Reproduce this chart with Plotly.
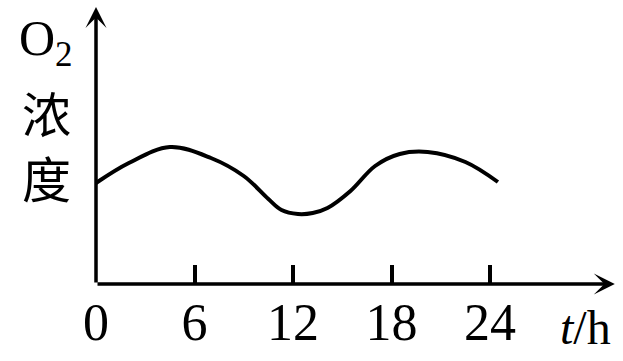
import plotly.graph_objects as go

# O2 concentration over one day (arbitrary units)
hours = [0, 2.0, 4.5, 7.0, 9.0, 10.5, 11.3, 12.3, 13.2, 14.1, 15.5, 17.0,
         18.5, 20.2, 22.5, 24.48]
o2_level = [10.1, 12.1, 13.7, 12.6, 10.8, 8.5, 7.4, 7.0, 7.1, 7.6, 9.3, 11.8,
            13.0, 13.2, 12.2, 10.2]
tick_vals = [0, 6, 12, 18, 24]
tick_text = ["0", "6", "12", "18", "24"]

X_MAX = 32.1
Y_MAX = 28.4
X_ARROW = 31.6
Y_ARROW = 27.7

serif = "Liberation Serif, Times New Roman, serif"
cjk = "Noto Sans CJK SC"

fig = go.Figure()
fig.add_trace(go.Scatter(
    x=hours, y=o2_level, mode="lines",
    line=dict(color="black", width=4, shape="spline", smoothing=1.0),
    hoverinfo="skip", showlegend=False,
))

axis_arrow = dict(showarrow=True, arrowhead=3, arrowsize=1.0, arrowwidth=3.5,
                  arrowcolor="black", axref="x", ayref="y", xref="x", yref="y",
                  text="", standoff=0, startstandoff=0)
annotations = [
    dict(x=X_ARROW, y=0, ax=0, ay=0, **axis_arrow),
    dict(x=0, y=Y_ARROW, ax=0, ay=0, **axis_arrow),
    dict(x=(585 - 96) / 527, y=(284 - 327) / 284, xref="paper", yref="paper",
         text="<i>t</i>/h", showarrow=False, xanchor="center", yanchor="middle",
         font=dict(family=serif, size=48, color="black")),
    dict(x=(46 - 96) / 527, y=(284 - 42) / 284, xref="paper", yref="paper",
         text="O<sub>2</sub>", showarrow=False, xanchor="center", yanchor="middle",
         font=dict(family=serif, size=50, color="black")),
    dict(x=(46 - 96) / 527, y=(284 - 111) / 284, xref="paper", yref="paper",
         text="浓", showarrow=False, xanchor="center", yanchor="middle",
         font=dict(family=cjk, size=49, color="black")),
    dict(x=(46 - 96) / 527, y=(284 - 176) / 284, xref="paper", yref="paper",
         text="度", showarrow=False, xanchor="center", yanchor="middle",
         font=dict(family=cjk, size=49, color="black")),
]

fig.update_layout(
    width=623, height=361,
    margin=dict(l=96, r=0, t=0, b=77),
    paper_bgcolor="white", plot_bgcolor="white",
    annotations=annotations,
    xaxis=dict(range=[0, X_MAX], showgrid=False, zeroline=False, showline=False,
               tickmode="array", tickvals=tick_vals, ticktext=tick_text,
               ticks="inside", ticklen=19, tickwidth=3.5, tickcolor="black",
               tickfont=dict(family=serif, size=52, color="black"),
               ticklabelstandoff=3, fixedrange=True),
    yaxis=dict(range=[0, Y_MAX], showgrid=False, zeroline=False, showline=False,
               showticklabels=False, ticks="", fixedrange=True),
)

fig.write_html("out.html")
